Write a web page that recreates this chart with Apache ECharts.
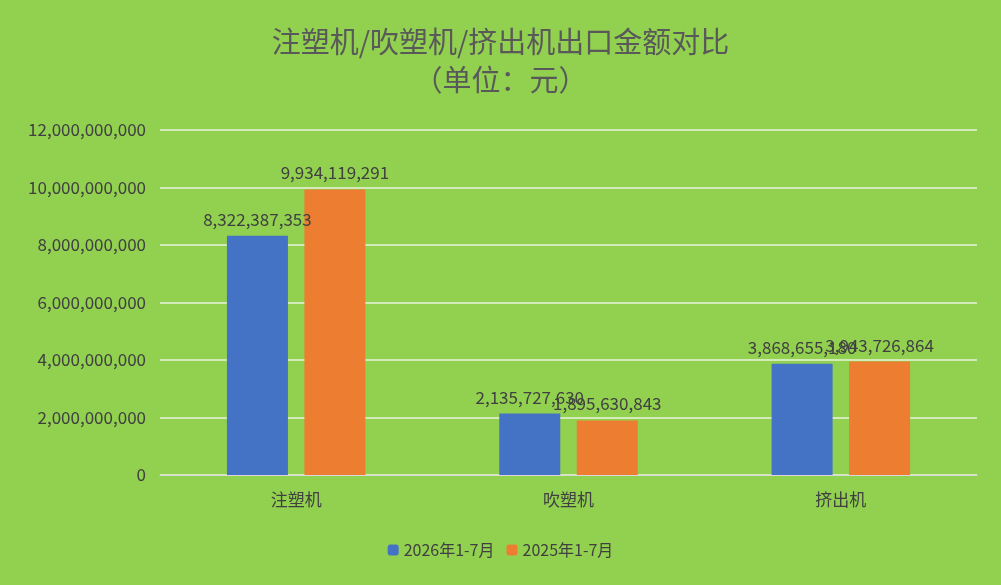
<!DOCTYPE html>
<html><head><meta charset="utf-8">
<script src="https://cdn.jsdelivr.net/npm/echarts@6/dist/echarts.min.js"></script>
<style>html,body{margin:0;padding:0;background:#92D050}#c{width:1001px;height:585px}</style>
</head><body><div id="c"></div>
<script>
const categories = ['注塑机', '吹塑机', '挤出机'];
const series2026 = [8322387353, 2135727630, 3868655180];
const series2025 = [9934119291, 1895630843, 3943726864];
const seriesNames = ['2026年1-7月', '2025年1-7月'];
const font = '"Noto Sans CJK SC", "Noto Sans", sans-serif';
const chart = echarts.init(document.getElementById('c'));
const lbl = {show: true, position: 'top', distance: 8, color: '#404040', fontSize: 17, fontFamily: font,
  formatter: p => p.value.toLocaleString('en-US')};
chart.setOption({
  backgroundColor: '#92D050',
  textStyle: {fontFamily: font},
  title: {text: '注塑机/吹塑机/挤出机出口金额对比\n（单位：元）', left: 'center', top: 18,
    textStyle: {fontSize: 29, fontWeight: 'normal', color: '#595959', lineHeight: 38, fontFamily: font}},
  legend: {bottom: 22, itemWidth: 11, itemHeight: 11, itemGap: 12,
    textStyle: {fontSize: 16, color: '#404040', fontFamily: font}},
  grid: {left: 160, right: 24, top: 130, bottom: 110},
  xAxis: {type: 'category', data: categories,
    axisLine: {lineStyle: {color: '#d9d9d9'}}, axisTick: {show: false},
    axisLabel: {fontSize: 17, color: '#404040', margin: 16}},
  yAxis: {type: 'value', min: 0, max: 12000000000, interval: 2000000000,
    axisLine: {show: false}, axisTick: {show: false},
    splitLine: {lineStyle: {color: '#e8f3dc', width: 1.5}},
    axisLabel: {fontSize: 17, color: '#404040', margin: 14, formatter: v => v.toLocaleString('en-US')}},
  series: [
    {name: seriesNames[0], type: 'bar', data: series2026, barWidth: 61, barGap: '27%',
     itemStyle: {color: '#4472C4'}, label: lbl},
    {name: seriesNames[1], type: 'bar', data: series2025, barWidth: 61,
     itemStyle: {color: '#ED7D31'}, label: lbl}
  ]
});
</script></body></html>
